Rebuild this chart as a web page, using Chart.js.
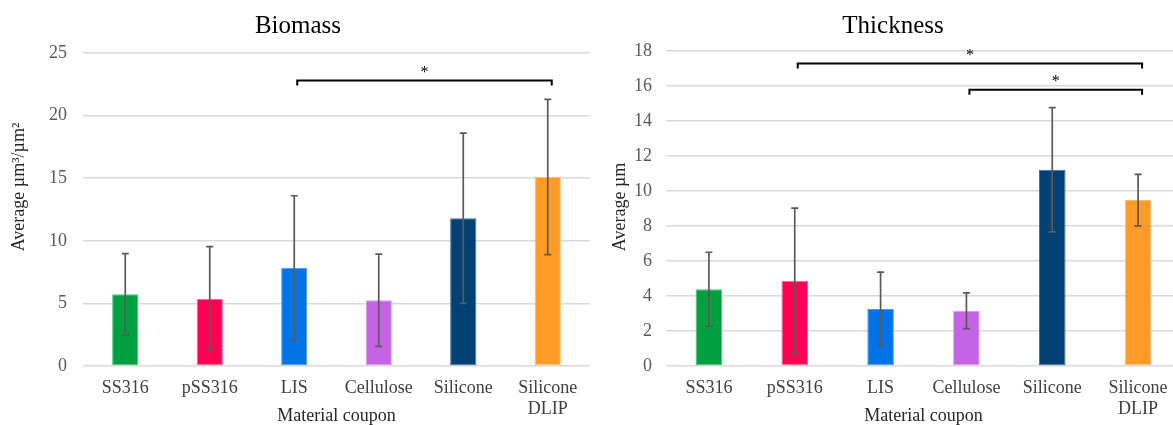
<!DOCTYPE html>
<html>
<head>
<meta charset="utf-8">
<script src="https://cdn.jsdelivr.net/npm/chart.js@4"></script>
<style>
  html, body { margin: 0; padding: 0; background: #fff; overflow: hidden; }
  body { width: 1173px; height: 425px; position: relative; }
  canvas { position: absolute; top: 0; }
  #chart-biomass { left: 0; }
  #chart-thickness { left: 596px; }
</style>
</head>
<body>
<canvas id="chart-biomass" width="596" height="425"></canvas>
<canvas id="chart-thickness" width="594" height="425"></canvas>
<script>
// Data
const materials = ['SS316', 'pSS316', 'LIS', 'Cellulose', 'Silicone', ['Silicone', 'DLIP']];

const biomassMean = [5.73, 5.38, 7.85, 5.25, 11.8, 15.1];
const biomassErr = [3.25, 4.15, 5.75, 3.68, 6.8, 6.2];
const biomassTicks = [0, 5, 10, 15, 20, 25];
// [dari, ke, nilai y]
const biomassSig = [[2, 5, 22.8]];

const thicknessMean = [4.38, 4.87, 3.26, 3.16, 11.22, 9.48];
const thicknessErr = [2.12, 4.15, 2.1, 1.02, 3.55, 1.47];
const thicknessTicks = [0, 2, 4, 6, 8, 10, 12, 14, 16, 18];
const thicknessSig = [[1, 5, 17.28], [3, 5, 15.79]];

const BAR_COLORS = ['#00a040', '#ff0055', '#0073e6', '#c463e5', '#004073', '#ff9b26'];
const BAR_EDGES = ['#45c27c', '#ff6b97', '#4a9cf0', '#d99af0', '#3f6f98', '#ffbe70'];

const SERIF = '"Liberation Serif", "Times New Roman", serif';

// Plugin: error bar, bracket signifikansi, judul & label sumbu
const extrasPlugin = {
    id: 'extras',
    afterDatasetsDraw(chart) {
        const ctx = chart.ctx;
        const cfg = chart.options.plugins.extras;
        const x = chart.scales.x;
        const y = chart.scales.y;

        // error bars
        ctx.save();
        ctx.strokeStyle = '#5a5a5a';
        ctx.lineWidth = 1.7;
        cfg.mean.forEach((m, i) => {
            const px = x.getPixelForValue(i);
            const top = y.getPixelForValue(m + cfg.err[i]);
            const bot = y.getPixelForValue(m - cfg.err[i]);
            ctx.beginPath();
            ctx.moveTo(px, top); ctx.lineTo(px, bot);
            ctx.moveTo(px - 3.5, top); ctx.lineTo(px + 3.5, top);
            ctx.moveTo(px - 3.5, bot); ctx.lineTo(px + 3.5, bot);
            ctx.stroke();
        });
        ctx.restore();

        // brackets
        ctx.save();
        ctx.strokeStyle = '#000';
        ctx.fillStyle = '#000';
        ctx.lineWidth = 2;
        ctx.font = '16px ' + SERIF;
        ctx.textAlign = 'center';
        ctx.textBaseline = 'middle';
        cfg.sig.forEach(([a, b, v]) => {
            const x1 = x.getPixelForValue(a) + 3;
            const x2 = x.getPixelForValue(b) + 4;
            const py = y.getPixelForValue(v);
            ctx.beginPath();
            ctx.moveTo(x1, py + 5);
            ctx.lineTo(x1, py);
            ctx.lineTo(x2, py);
            ctx.lineTo(x2, py + 5);
            ctx.stroke();
            ctx.fillText('*', (x1 + x2) / 2, py - 8);
        });
        ctx.restore();

        // teks
        ctx.save();
        ctx.fillStyle = '#000';
        ctx.textAlign = 'center';
        ctx.font = '25px ' + SERIF;
        ctx.textBaseline = 'alphabetic';
        ctx.fillText(cfg.title, chart.width / 2, 33);

        ctx.fillStyle = '#262626';
        ctx.font = '18px ' + SERIF;
        ctx.textBaseline = 'middle';
        ctx.fillText('Material coupon', (chart.chartArea.left + chart.chartArea.right) / 2, 416);

        ctx.translate(cfg.yTitleX, cfg.yTitleY);
        ctx.rotate(-Math.PI / 2);
        ctx.fillText(cfg.yTitle, 0, 0);
        ctx.restore();
    },
};

function makeChart(id, mean, err, ticks, sig, opts) {
    const canvas = document.getElementById(id);
    return new Chart(canvas, {
        type: 'bar',
        data: {
            labels: materials,
            datasets: [{
                data: mean,
                backgroundColor: BAR_COLORS,
                borderColor: BAR_EDGES,
                borderWidth: 1,
                borderSkipped: false,
                barPercentage: 1,
                categoryPercentage: 0.31,
            }],
        },
        options: {
            responsive: false,
            animation: false,
            devicePixelRatio: 1,
            layout: { padding: { top: opts.top, right: opts.right, left: 0, bottom: 0 } },
            plugins: {
                legend: { display: false },
                tooltip: { enabled: false },
                extras: {
                    mean: mean, err: err, sig: sig,
                    title: opts.title, yTitle: opts.yTitle,
                    yTitleX: opts.yTitleX, yTitleY: opts.yTitleY,
                },
            },
            scales: {
                x: {
                    grid: { display: false },
                    border: { display: false },
                    ticks: {
                        color: '#404040',
                        font: { family: SERIF, size: 18, lineHeight: 1.15 },
                        padding: 4,
                        maxRotation: 0,
                        autoSkip: false,
                    },
                    afterFit(scale) { scale.height = 59; },
                },
                y: {
                    min: 0,
                    max: ticks[ticks.length - 1],
                    afterBuildTicks(scale) { scale.ticks = ticks.map(v => ({ value: v })); },
                    grid: { color: '#d9d9d9', lineWidth: 1.5, drawTicks: false },
                    border: { display: false },
                    ticks: {
                        color: '#595959',
                        font: { family: SERIF, size: 18 },
                        padding: opts.tickPad,
                    },
                    afterFit(scale) { scale.width = opts.yWidth; },
                },
            },
        },
        plugins: [extrasPlugin],
    });
}

makeChart('chart-biomass', biomassMean, biomassErr, biomassTicks, biomassSig, {
    title: 'Biomass', yTitle: 'Average µm³/µm²',
    top: 53, right: 6, yWidth: 83, tickPad: 16,
    yTitleX: 19, yTitleY: 187,
});

makeChart('chart-thickness', thicknessMean, thicknessErr, thicknessTicks, thicknessSig, {
    title: 'Thickness', yTitle: 'Average µm',
    top: 51, right: 9, yWidth: 70, tickPad: 14,
    yTitleX: 24, yTitleY: 207,
});
</script>
</body>
</html>
